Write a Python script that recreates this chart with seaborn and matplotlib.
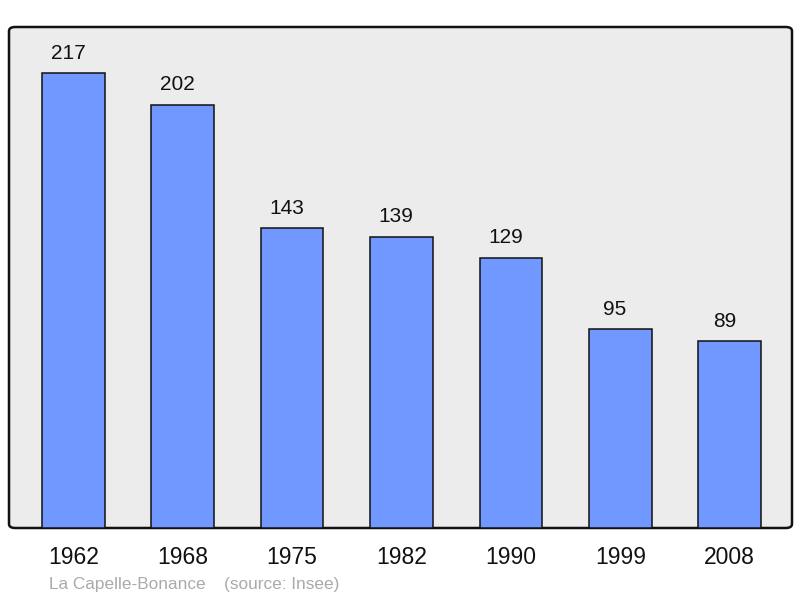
import matplotlib
matplotlib.use("Agg")
import matplotlib.pyplot as plt
import seaborn as sns
import pandas as pd
from matplotlib.patches import FancyBboxPatch

years = ["1962", "1968", "1975", "1982", "1990", "1999", "2008"]
population = [217, 202, 143, 139, 129, 95, 89]
place = "La Capelle-Bonance"
source = "(source: Insee)"

sns.set_theme(style="white")
plt.rcParams['font.family'] = ['Liberation Sans', 'DejaVu Sans']

df = pd.DataFrame({"year": years, "pop": population})

fig = plt.figure(figsize=(8, 5.98), dpi=100)
ax = fig.add_axes([9/800, 70/598, 783/800, 501/598])
ax.set_facecolor("none")

bg = FancyBboxPatch((0, 0), 1, 1, boxstyle="round,pad=0,rounding_size=0.008",
                    transform=ax.transAxes, facecolor="#ececec", edgecolor="#111111",
                    linewidth=1.8, zorder=0, clip_on=False)
ax.add_patch(bg)

sns.barplot(data=df, x="year", y="pop", ax=ax, color="#7098ff", saturation=1,
            width=0.573, edgecolor="#111111", linewidth=1.1, zorder=2)

for i, v in enumerate(population):
    ax.annotate(str(v), (i, v), xytext=(-3.8, 10.2), textcoords="offset points",
                ha="center", va="baseline", fontsize=15, color="#111111")

ax.set_xlim(-0.588, 6.569)
ax.set_ylim(0, 239)
ax.set_yticks([])
ax.set_xlabel("")
ax.set_ylabel("")
for s in ax.spines.values():
    s.set_visible(False)
ax.tick_params(axis="x", length=0, pad=13.3, labelsize=16.5, labelcolor="#111111")

fig.text(49/800, 1 - 584/598, place, fontsize=12.4, color="#aaaaaa", va="center", ha="left")
fig.text(224/800, 1 - 584/598, source, fontsize=12.4, color="#aaaaaa", va="center", ha="left")

fig.savefig("out.png", dpi=100, facecolor="white")
